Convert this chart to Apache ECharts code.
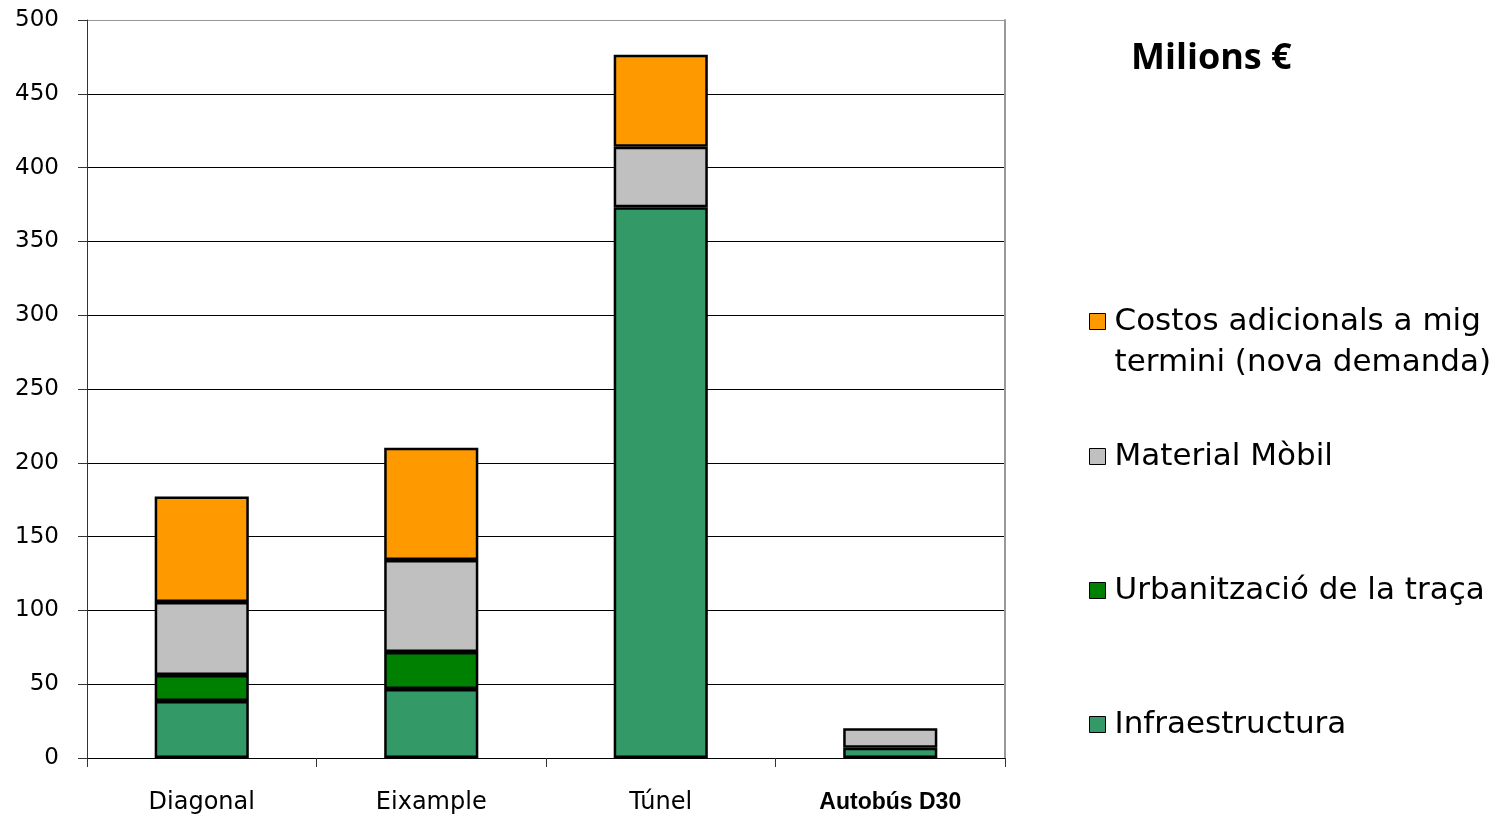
<!DOCTYPE html>
<html>
<head>
<meta charset="utf-8">
<script src="https://cdn.jsdelivr.net/npm/echarts@6/dist/echarts.min.js"></script>
<style>
html,body{margin:0;padding:0;background:#fff;}
#chart{width:1506px;height:816px;}
</style>
</head>
<body>
<div id="chart"></div>
<script>
var categories = ['Diagonal', 'Eixample', 'Túnel', 'Autobús D30'];
var yTicks = [0, 50, 100, 150, 200, 250, 300, 350, 400, 450, 500];
var infraestructura = [38.6, 46.7, 373.1, 7.0];
var urbanitzacio = [17.6, 25.1, '-', '-'];
var materialMobil = [49.5, 62.3, 41.1, 13.1];
var costosAdicionals = [71.5, 76.1, 62.3, '-'];
var seriesNames = ['Infraestructura', 'Urbanització de la traça', 'Material Mòbil', 'Costos adicionals a mig termini (nova demanda)'];
var seriesColors = ['#339966', '#008000', '#C0C0C0', '#FF9900'];
var titleText = 'Milions €';

var chart = echarts.init(document.getElementById('chart'), null, {renderer: 'canvas'});
var seriesData = [infraestructura, urbanitzacio, materialMobil, costosAdicionals];

var series = seriesData.map(function (d, i) {
  return {
    name: seriesNames[i],
    type: 'bar',
    stack: 'total',
    barWidth: '41%',
    data: d,
    itemStyle: {color: seriesColors[i], borderColor: '#000', borderWidth: 2.5},
    emphasis: {disabled: true},
    silent: true
  };
});

function legendFor(name, top, formatter) {
  return {
    data: [name],
    left: 1089,
    top: top,
    orient: 'vertical',
    itemWidth: 16,
    itemHeight: 16,
    itemGap: 0,
    padding: 0,
    selectedMode: false,
    icon: 'rect',
    itemStyle: {borderColor: '#000', borderWidth: 1},
    formatter: formatter,
    textStyle: {
      fontFamily: 'DejaVu Sans',
      fontSize: 31,
      color: '#000',
      lineHeight: 41,
      padding: [0, 0, 0, 4]
    }
  };
}

var splitColors = yTicks.map(function (v, i) { return i === yTicks.length - 1 ? '#999' : '#000'; });

var option = {
  animation: false,
  backgroundColor: '#fff',
  title: {
    text: titleText,
    left: 1131,
    top: 41,
    padding: 0,
    textStyle: {fontFamily: 'Open Sans', fontWeight: 'bold', fontSize: 36, color: '#000'}
  },
  legend: [
    legendFor(seriesNames[3], 260, function () { return '\nCostos adicionals a mig\ntermini (nova demanda)'; }),
    legendFor(seriesNames[2], 436),
    legendFor(seriesNames[1], 570),
    legendFor(seriesNames[0], 704)
  ],
  grid: {left: 87, right: 501, top: 20, bottom: 58, containLabel: false},
  xAxis: {
    type: 'category',
    data: categories.map(function (c, i) {
      if (i === 3) {
        return {value: c, textStyle: {fontFamily: 'Liberation Sans', fontWeight: 'bold', fontSize: 23}};
      }
      return c;
    }),
    axisLine: {lineStyle: {color: '#000', width: 1}},
    axisTick: {show: true, length: 9, lineStyle: {color: '#333', width: 1}},
    axisLabel: {fontFamily: 'DejaVu Sans', fontSize: 24, color: '#000', margin: 33}
  },
  yAxis: [{
    type: 'value',
    min: 0,
    max: 500,
    interval: 50,
    axisLine: {show: true, lineStyle: {color: '#333', width: 1}},
    axisTick: {show: true, length: 9, lineStyle: {color: '#333'}},
    axisLabel: {fontFamily: 'DejaVu Sans', fontSize: 23, color: '#000', margin: 28},
    splitLine: {show: true, lineStyle: {color: splitColors, width: 1}}
  }, {
    type: 'value',
    min: 0,
    max: 500,
    interval: 50,
    position: 'right',
    axisLine: {show: true, lineStyle: {color: '#999', width: 2}},
    axisTick: {show: false},
    axisLabel: {show: false},
    splitLine: {show: false}
  }],
  series: series
};
chart.setOption(option);
</script>
</body>
</html>
